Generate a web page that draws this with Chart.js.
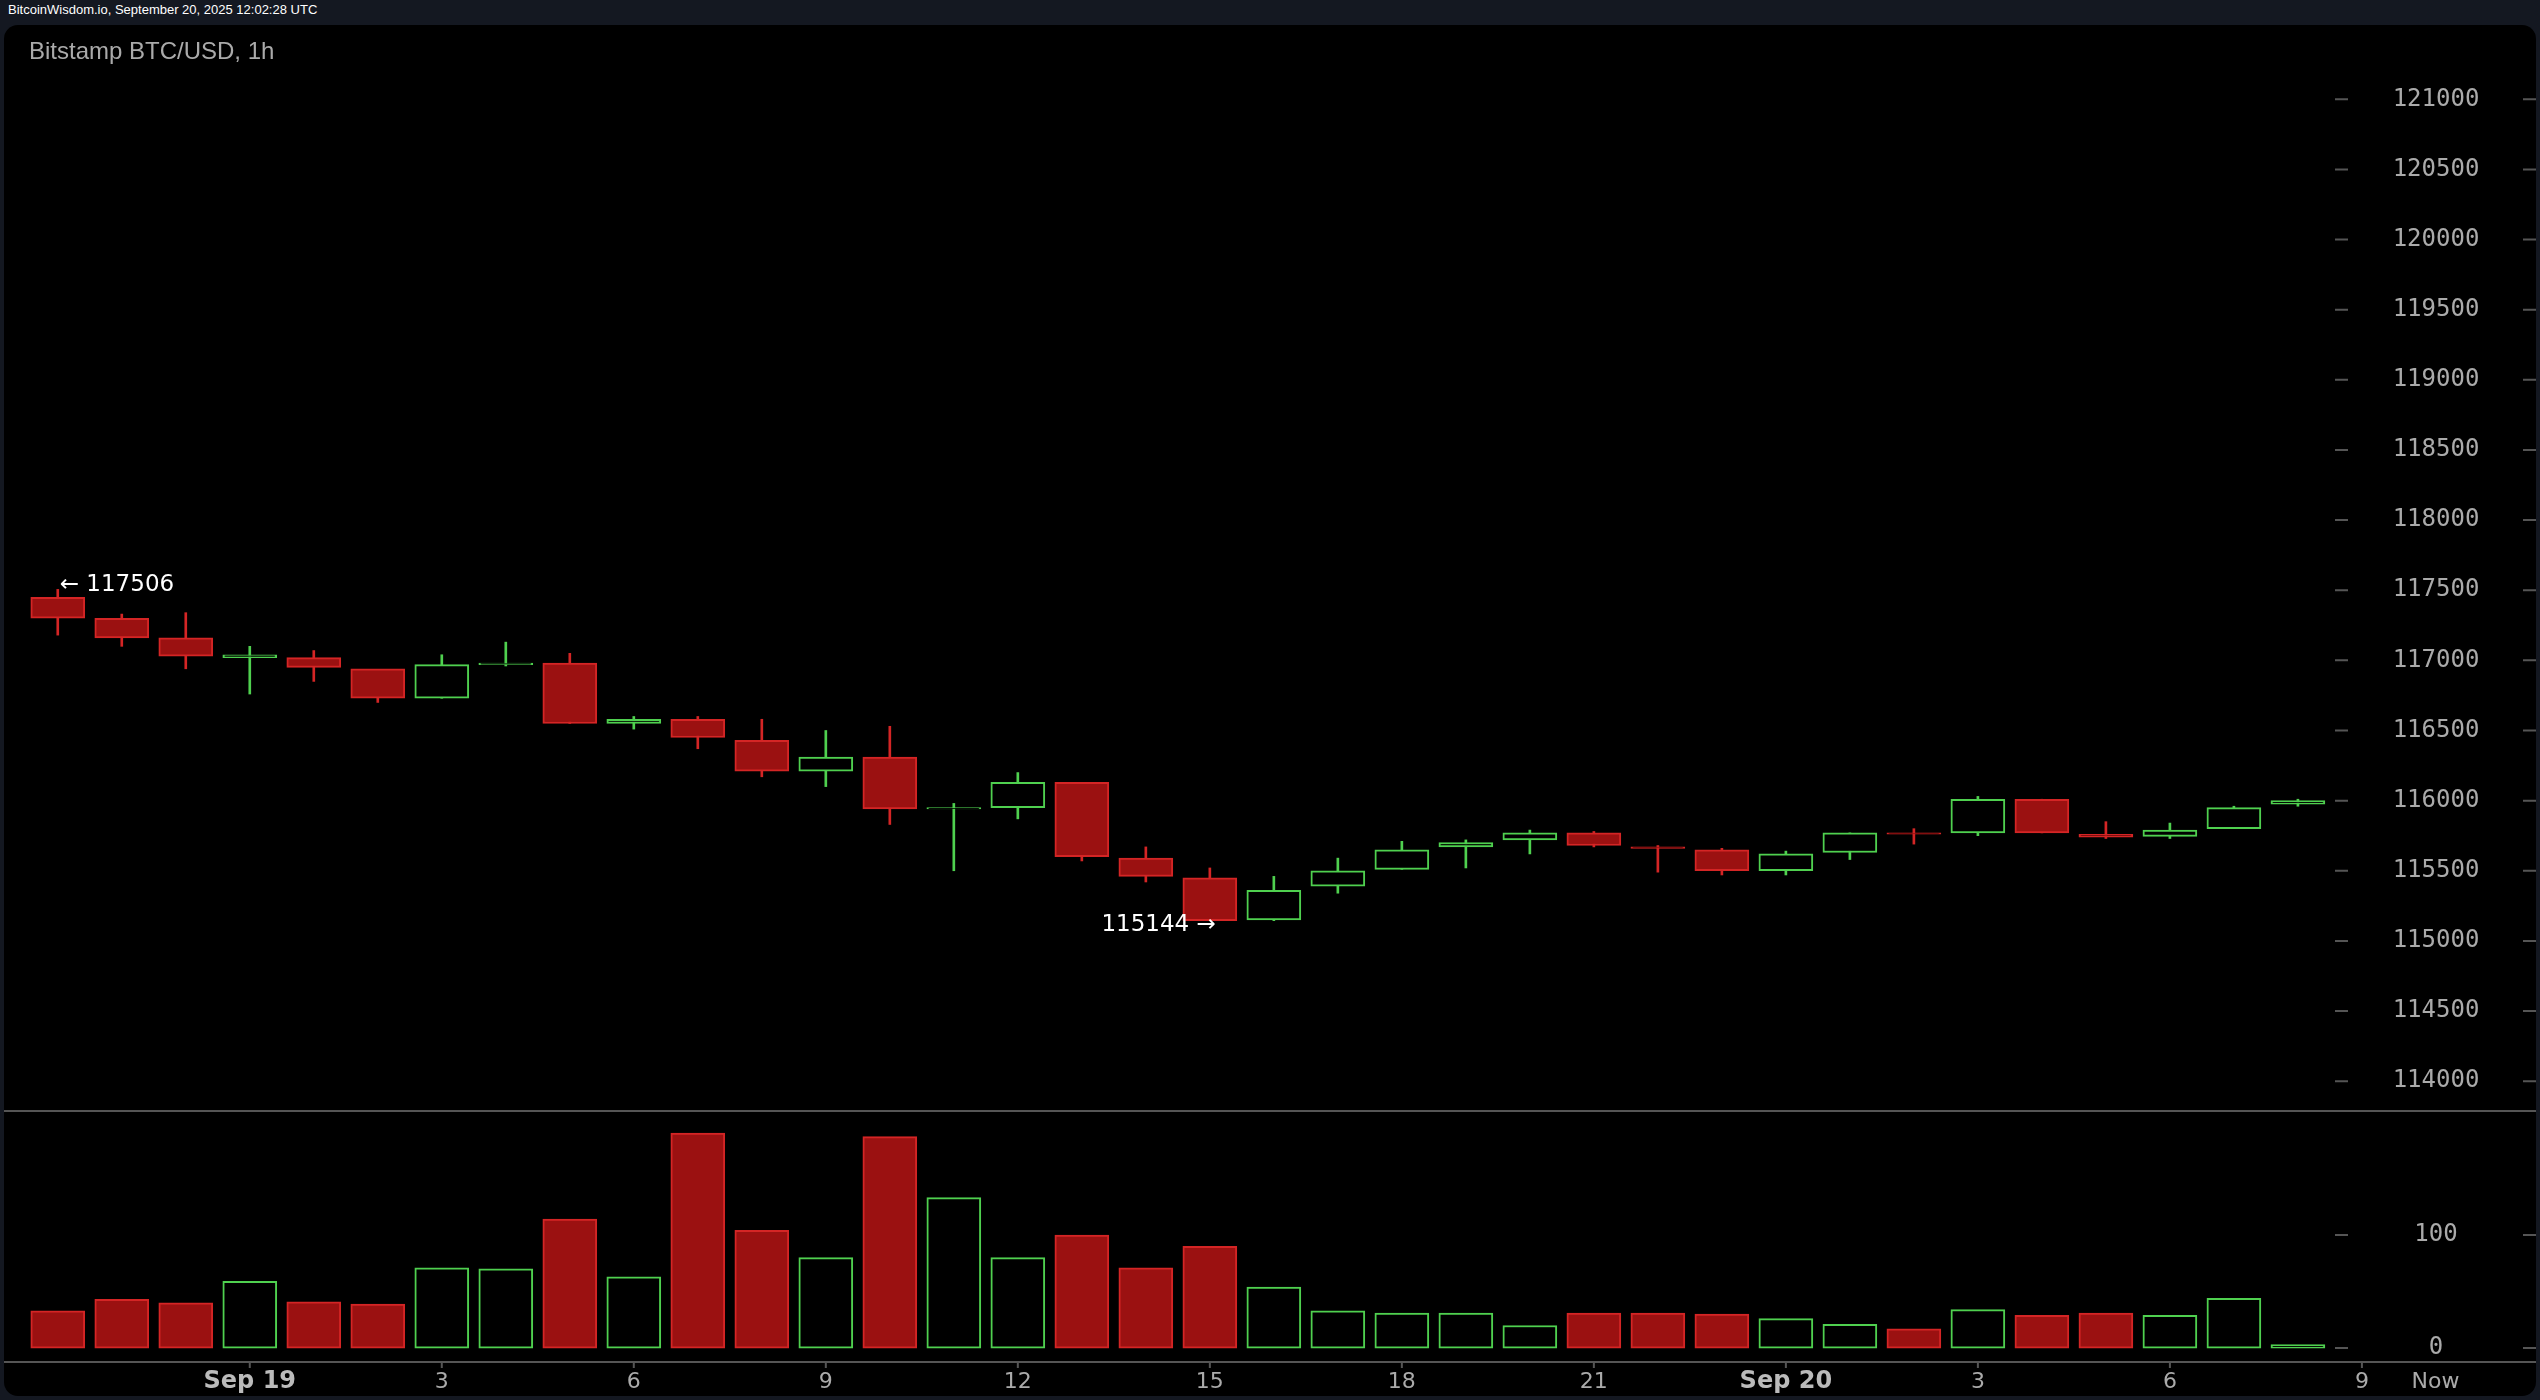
<!DOCTYPE html>
<html><head><meta charset="utf-8">
<script src="https://cdn.jsdelivr.net/npm/chart.js@4.4.1/dist/chart.umd.min.js"></script>
<style>
html,body{margin:0;padding:0;background:#141821;width:2540px;height:1400px;overflow:hidden;font-family:"Liberation Sans",Arial,sans-serif}
#hdr{position:absolute;left:8px;top:2px;color:#fff;font-size:13px}
#panel{position:absolute;left:4px;top:25px;width:2532px;height:1371px;background:#000;border-radius:14px;overflow:hidden}
#title{position:absolute;left:25px;top:12px;color:#aaa;font-size:24px}
#c1{position:absolute;left:0;top:0;width:2532px;height:1087px}
#c2{position:absolute;left:0;top:1087px;width:2532px;height:284px}
</style></head><body>
<div id="hdr">BitcoinWisdom.io, September 20, 2025 12:02:28 UTC</div>
<div id="panel"><canvas id="c1" width="2532" height="1087"></canvas><canvas id="c2" width="2532" height="284"></canvas><div id="title">Bitstamp BTC/USD, 1h</div></div>
<script>
const openP  = [117450,117300,117160,117020,117020,116940,116730,116970,116980,116550,116580,116430,116210,116310,115940,115950,116130,115590,115450,115150,115390,115510,115670,115720,115770,115670,115650,115500,115630,115770,115770,116010,115760,115745,115800,115975];
const closeP = [117300,117160,117030,117040,116950,116730,116970,116980,116550,116580,116450,116210,116310,115940,115950,116130,115600,115460,115144,115360,115500,115650,115700,115770,115680,115660,115500,115620,115770,115760,116010,115770,115740,115790,115950,116000];
const highP  = [117506,117330,117340,117100,117070,116740,117040,117130,117050,116600,116600,116580,116500,116530,115980,116200,116130,115670,115520,115460,115590,115710,115720,115790,115780,115680,115660,115640,115770,115800,116030,116010,115850,115840,115960,116010];
const lowP   = [117180,117100,116940,116760,116850,116700,116730,116960,116550,116510,116370,116170,116100,115830,115500,115870,115570,115420,115144,115144,115340,115510,115520,115620,115670,115490,115470,115470,115580,115690,115750,115770,115730,115730,115800,115960];
const volume = [33,43,40,59,41,39,71,70,114,63,190,104,80,187,133,80,100,71,90,54,33,31,31,20,31,31,30,26,21,17,34,29,31,29,44,3];
const priceTicks = [114000,114500,115000,115500,116000,116500,117000,117500,118000,118500,119000,119500,120000,120500,121000];
const volTicks = [0,100];
const xLabels = [[3,"Sep 19",true],[6,"3"],[9,"6"],[12,"9"],[15,"12"],[18,"15"],[21,"18"],[24,"21"],[27,"Sep 20",true],[30,"3"],[33,"6"],[36,"9"],[37.15,"Now"]];

const RED_F='#9b1111', RED_B='#d42525', GRN='#4fd04f';
const up = openP.map((o,i)=>closeP[i]>=o);
const W=2532;
const c1=document.getElementById('c1'), c2=document.getElementById('c2');
const xOpts={type:'linear',min:-0.84,max:38.72,offset:false,bounds:'ticks',display:false};
function minBody(o,c){return Math.abs(o-c)<8?[Math.min(o,c)-4,Math.max(o,c)+4]:[o,c];}

function axisPlugin(ticks){return {id:'ax',afterDraw(ch){
  const ctx=ch.ctx,y=ch.scales.y;ctx.save();
  ctx.font='24px "DejaVu Sans Mono"';ctx.fillStyle='#aaa';ctx.textAlign='center';ctx.textBaseline='middle';
  ctx.strokeStyle='#555';ctx.lineWidth=2;
  ticks.forEach(t=>{const py=y.getPixelForValue(t);ctx.fillText(String(t),2432,py);
    ctx.beginPath();ctx.moveTo(2331,py);ctx.lineTo(2344,py);ctx.moveTo(2519,py);ctx.lineTo(2532,py);ctx.stroke();});
  ctx.restore();}};}

const annot={id:'annot',afterDraw(ch){
  const ctx=ch.ctx,x=ch.scales.x,y=ch.scales.y;ctx.save();
  ctx.font='23px "DejaVu Sans"';ctx.fillStyle='#fff';ctx.textBaseline='middle';
  const hi=Math.max(...highP), lo=Math.min(...lowP);
  const iH=highP.indexOf(hi), iL=lowP.indexOf(lo);
  ctx.textAlign='left';ctx.fillText('← '+hi,x.getPixelForValue(iH)+2,y.getPixelForValue(hi)-4);
  ctx.textAlign='right';ctx.fillText(lo+' →',x.getPixelForValue(iL)+6,y.getPixelForValue(lo)+4);
  ctx.strokeStyle='#555';ctx.lineWidth=2;ctx.beginPath();ctx.moveTo(0,ch.height-1);ctx.lineTo(W,ch.height-1);ctx.stroke();
  ctx.restore();}};

new Chart(c1,{type:'bar',data:{datasets:[
  {data:lowP.map((l,i)=>({x:i,y:[l,highP[i]]})),backgroundColor:up.map(u=>u?GRN:RED_B),barThickness:2,order:2,grouped:false},
  {data:openP.map((o,i)=>({x:i,y:minBody(o,closeP[i])})),backgroundColor:up.map(u=>u?'#000':RED_F),borderColor:up.map(u=>u?GRN:RED_B),borderWidth:2,borderSkipped:false,barThickness:54,order:1,grouped:false}
]},options:{responsive:false,maintainAspectRatio:false,animation:false,devicePixelRatio:1,layout:{padding:0},
  plugins:{legend:{display:false},tooltip:{enabled:false}},
  scales:{x:xOpts,y:{min:113780,max:121530,display:false}}},
  plugins:[axisPlugin(priceTicks),annot]});

const xlab={id:'xlab',afterDraw(ch){
  const ctx=ch.ctx,x=ch.scales.x,ca=ch.chartArea;ctx.save();
  ctx.strokeStyle='#555';ctx.lineWidth=2;ctx.beginPath();ctx.moveTo(0,ca.bottom);ctx.lineTo(W,ca.bottom);ctx.stroke();
  ctx.textAlign='center';ctx.textBaseline='middle';
  xLabels.forEach(([i,t,b])=>{const px=x.getPixelForValue(i);
    if(t!=='Now'){ctx.beginPath();ctx.moveTo(px,ca.bottom);ctx.lineTo(px,ca.bottom+6);ctx.stroke();}
    ctx.font=(b?'bold 24px':'22px')+' "DejaVu Sans"';ctx.fillStyle=b?'#bbb':'#aaa';
    ctx.fillText(t,px,ca.bottom+20);});
  ctx.restore();}};

new Chart(c2,{type:'bar',data:{datasets:[
  {data:volume.map((v,i)=>({x:i,y:[0,v]})),backgroundColor:up.map(u=>u?'#000':RED_F),borderColor:up.map(u=>u?GRN:RED_B),borderWidth:2,borderSkipped:false,barThickness:54,grouped:false}
]},options:{responsive:false,maintainAspectRatio:false,animation:false,devicePixelRatio:1,layout:{padding:{bottom:34}},
  plugins:{legend:{display:false},tooltip:{enabled:false}},
  scales:{x:xOpts,y:{min:-12.3,max:208.7,display:false}}},
  plugins:[axisPlugin(volTicks),xlab]});
</script></body></html>
